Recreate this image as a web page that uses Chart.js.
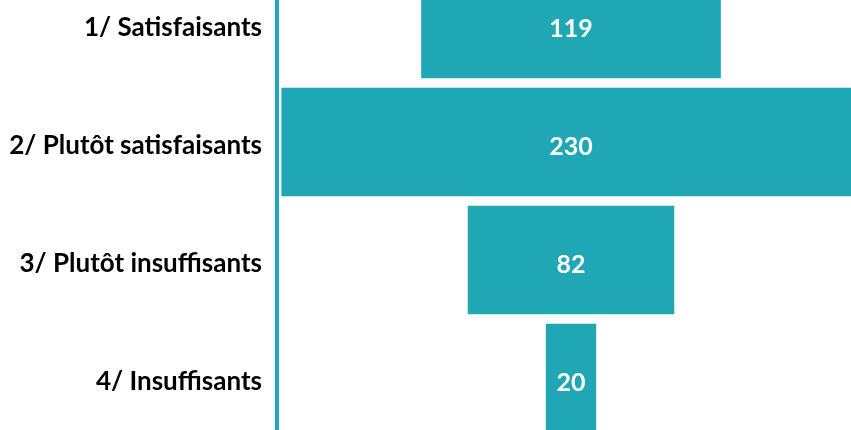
<!DOCTYPE html>
<html>
<head>
<meta charset="utf-8">
<script src="https://cdn.jsdelivr.net/npm/chart.js@4/dist/chart.umd.min.js"></script>
<style>
  html, body { margin: 0; padding: 0; background: #ffffff; }
  body { width: 851px; height: 430px; overflow: hidden; position: relative; }
  #wrap { position: absolute; left: 0; top: -35px; width: 865px; height: 472px; }
</style>
</head>
<body>
<div id="wrap"><canvas id="funnel" width="865" height="472"></canvas></div>
<script>
var categories = [
    '1/ Satisfaisants',
    '2/ Plutôt satisfaisants',
    '3/ Plutôt insuffisants',
    '4/ Insuffisants'
];

var values = [119, 230, 82, 20];

var teal = '#1fa7b5';

// each bar is centered on 0 so the chart reads as a funnel
var floating = values.map(function (v) {
    return [-v / 2, v / 2];
});

var valueLabels = {
    id: 'valueLabels',
    afterDatasetsDraw: function (chart) {
        var ctx = chart.ctx;
        var meta = chart.getDatasetMeta(0);
        ctx.save();
        ctx.fillStyle = '#ffffff';
        ctx.font = 'bold 25px Lato, "Open Sans", sans-serif';
        ctx.textAlign = 'center';
        ctx.textBaseline = 'middle';
        meta.data.forEach(function (bar, i) {
            var cx = (bar.x + bar.base) / 2;
            ctx.fillText(String(values[i]), cx, bar.y + 5);
        });
        ctx.restore();
    }
};

new Chart(document.getElementById('funnel'), {
    type: 'bar',
    data: {
        labels: categories,
        datasets: [{
            data: floating,
            backgroundColor: teal,
            borderWidth: 0,
            categoryPercentage: 1,
            barPercentage: 0.92
        }]
    },
    options: {
        indexAxis: 'y',
        responsive: false,
        animation: false,
        layout: { padding: 0 },
        plugins: {
            legend: { display: false },
            tooltip: { enabled: false }
        },
        scales: {
            x: {
                display: false,
                min: -116.75,
                max: 116.75
            },
            y: {
                afterFit: function (scale) {
                    scale.width = 277;
                    scale.paddingTop = 0;
                    scale.paddingBottom = 0;
                },
                grid: { display: false, drawTicks: false },
                border: { display: true, color: teal, width: 4 },
                ticks: {
                    padding: 15,
                    labelOffset: 4,
                    color: '#000000',
                    font: { family: 'Lato, "Open Sans", sans-serif', weight: 'bold', size: 26 }
                }
            }
        }
    },
    plugins: [valueLabels]
});
</script>
</body>
</html>
